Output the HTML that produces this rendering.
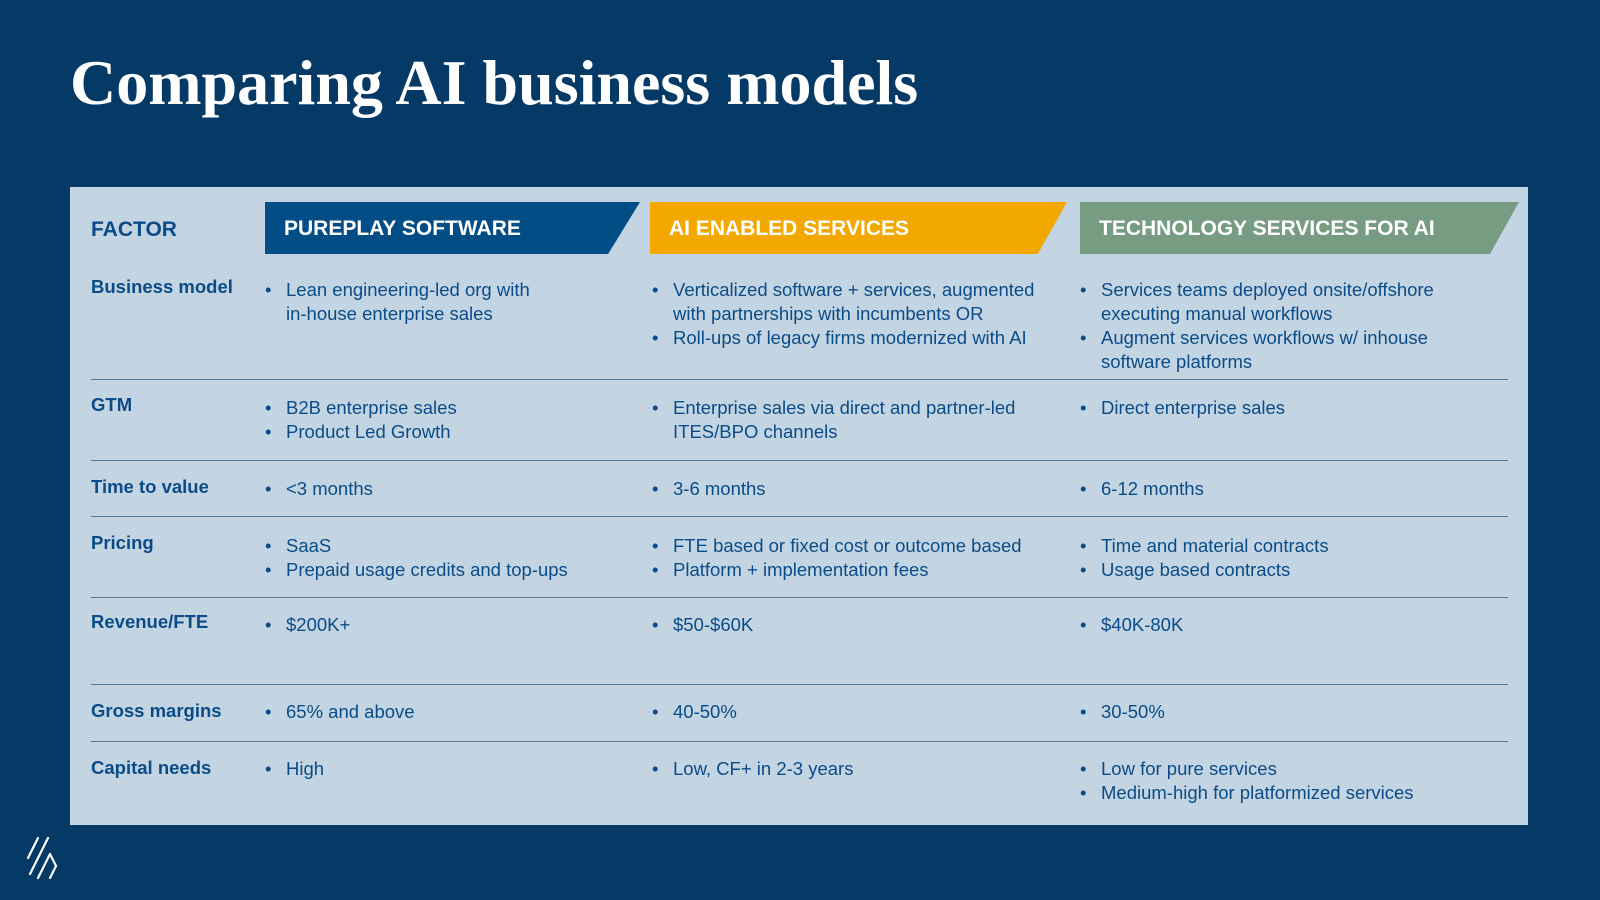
<!DOCTYPE html>
<html><head><meta charset="utf-8"><style>
*{margin:0;padding:0;box-sizing:border-box}
body{width:1600px;height:900px;background:#053a66;position:relative;overflow:hidden;font-family:"Liberation Sans",sans-serif}
h1{position:absolute;left:70px;top:46px;font-family:"Liberation Serif",serif;font-weight:bold;font-size:64px;letter-spacing:0px;color:#fff}
.panel{position:absolute;left:70px;top:187px;width:1458px;height:638px;background:#c3d5e3}
.a{position:absolute;font-size:18.5px;line-height:24px;color:#0b4b87}
.l{font-weight:bold}
.h{position:absolute;top:202px;height:52px;color:#fff;font-weight:bold;font-size:21px;line-height:54px;padding-left:19px}
ul{list-style:none}
li{position:relative;padding-left:21px}
li:before{content:"•";position:absolute;left:0;top:0}
.hr{position:absolute;left:91px;width:1417px;height:1px;background:#52789c}
</style></head><body>
<h1>Comparing AI business models</h1>
<div class="panel"></div>
<div class="a l" style="left:91px;top:218px;font-size:21px;line-height:24px">FACTOR</div>
<div class="h" style="left:265px;width:375px;background:#034d87;clip-path:polygon(0 0,100% 0,91.5% 100%,0 100%)">PUREPLAY SOFTWARE</div>
<div class="h" style="left:650px;width:417px;background:#f3a800;clip-path:polygon(0 0,100% 0,93% 100%,0 100%)">AI ENABLED SERVICES</div>
<div class="h" style="left:1080px;width:439px;background:#779c82;clip-path:polygon(0 0,100% 0,93.4% 100%,0 100%)">TECHNOLOGY SERVICES FOR AI</div>

<div class="a l" style="left:91px;top:275px">Business model</div>
<ul class="a" style="left:265px;top:278px"><li>Lean engineering-led org with<br>in-house enterprise sales</li></ul>
<ul class="a" style="left:652px;top:278px"><li>Verticalized software + services, augmented<br>with partnerships with incumbents OR</li><li>Roll-ups of legacy firms modernized with AI</li></ul>
<ul class="a" style="left:1080px;top:278px"><li>Services teams deployed onsite/offshore<br>executing manual workflows</li><li>Augment services workflows w/ inhouse<br>software platforms</li></ul>
<div class="hr" style="top:379px"></div>

<div class="a l" style="left:91px;top:393px">GTM</div>
<ul class="a" style="left:265px;top:396px"><li>B2B enterprise sales</li><li>Product Led Growth</li></ul>
<ul class="a" style="left:652px;top:396px"><li>Enterprise sales via direct and partner-led<br>ITES/BPO channels</li></ul>
<ul class="a" style="left:1080px;top:396px"><li>Direct enterprise sales</li></ul>
<div class="hr" style="top:460px"></div>

<div class="a l" style="left:91px;top:475px">Time to value</div>
<ul class="a" style="left:265px;top:477px"><li>&lt;3 months</li></ul>
<ul class="a" style="left:652px;top:477px"><li>3-6 months</li></ul>
<ul class="a" style="left:1080px;top:477px"><li>6-12 months</li></ul>
<div class="hr" style="top:516px"></div>

<div class="a l" style="left:91px;top:531px">Pricing</div>
<ul class="a" style="left:265px;top:534px"><li>SaaS</li><li>Prepaid usage credits and top-ups</li></ul>
<ul class="a" style="left:652px;top:534px"><li>FTE based or fixed cost or outcome based</li><li>Platform + implementation fees</li></ul>
<ul class="a" style="left:1080px;top:534px"><li>Time and material contracts</li><li>Usage based contracts</li></ul>
<div class="hr" style="top:597px"></div>

<div class="a l" style="left:91px;top:610px">Revenue/FTE</div>
<ul class="a" style="left:265px;top:613px"><li>$200K+</li></ul>
<ul class="a" style="left:652px;top:613px"><li>$50-$60K</li></ul>
<ul class="a" style="left:1080px;top:613px"><li>$40K-80K</li></ul>
<div class="hr" style="top:684px"></div>

<div class="a l" style="left:91px;top:699px">Gross margins</div>
<ul class="a" style="left:265px;top:700px"><li>65% and above</li></ul>
<ul class="a" style="left:652px;top:700px"><li>40-50%</li></ul>
<ul class="a" style="left:1080px;top:700px"><li>30-50%</li></ul>
<div class="hr" style="top:741px"></div>

<div class="a l" style="left:91px;top:756px">Capital needs</div>
<ul class="a" style="left:265px;top:757px"><li>High</li></ul>
<ul class="a" style="left:652px;top:757px"><li>Low, CF+ in 2-3 years</li></ul>
<ul class="a" style="left:1080px;top:757px"><li>Low for pure services</li><li>Medium-high for platformized services</li></ul>

<svg style="position:absolute;left:24px;top:834px" width="40" height="48" viewBox="0 0 40 48">
<g stroke="#fff" stroke-width="2.2" fill="none" stroke-linecap="round">
<line x1="4" y1="24" x2="14" y2="4"/>
<line x1="6" y1="40" x2="24" y2="4"/>
<line x1="14" y1="44" x2="26" y2="20"/>
<line x1="26" y1="20" x2="32" y2="32"/>
<line x1="32" y1="32" x2="26" y2="44"/>
</g></svg>
</body></html>
